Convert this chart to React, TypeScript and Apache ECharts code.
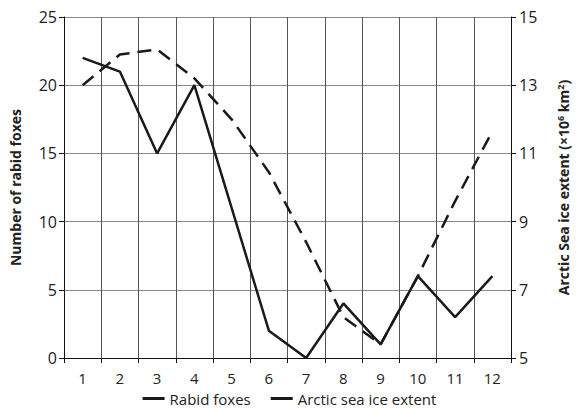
import React, { useEffect, useRef } from "react";
import * as echarts from "echarts";

const months = ["1", "2", "3", "4", "5", "6", "7", "8", "9", "10", "11", "12"];
const rabidFoxes = [22, 21, 15, 20, 11, 2, 0, 4, 1, 6, 3, 6];
const seaIce = [13.0, 13.9, 14.05, 13.2, 12.0, 10.45, 8.4, 6.2, 5.4, 7.4, 9.6, 11.65];
const leftTicks = { min: 0, max: 25, interval: 5 };
const rightTicks = { min: 5, max: 15, interval: 2 };

const FONT = "'Open Sans', 'Liberation Sans', sans-serif";

export default function App() {
  const ref = useRef<HTMLDivElement>(null);
  useEffect(() => {
    if (!ref.current) return;
    const chart = echarts.init(ref.current, undefined, { renderer: "svg" });
    const offset = rightTicks.min;
    chart.setOption({
      animation: false,
      textStyle: { fontFamily: FONT },
      grid: { left: 59, right: 52, top: 17, bottom: 53 },
      legend: {
        bottom: 0,
        left: "center",
        icon: "rect",
        itemWidth: 22,
        itemHeight: 3,
        itemGap: 20,
        textStyle: { fontFamily: FONT, fontSize: 15, color: "#222", lineHeight: 15 },
        data: ["Rabid foxes", "Arctic sea ice extent"],
      },
      xAxis: {
        type: "category",
        data: months,
        boundaryGap: true,
        axisLine: { lineStyle: { color: "#111", width: 1 } },
        axisTick: { show: true, length: 5, lineStyle: { color: "#111" } },
        axisLabel: { fontFamily: FONT, fontSize: 15, color: "#222", margin: 12, lineHeight: 15 },
        splitLine: { show: true, lineStyle: { color: "#555", width: 1 } },
      },
      yAxis: [
        {
          type: "value",
          min: leftTicks.min,
          max: leftTicks.max,
          interval: leftTicks.interval,
          position: "left",
          name: "Number of rabid foxes",
          nameLocation: "middle",
          nameGap: 42,
          nameTextStyle: { fontFamily: FONT, fontSize: 14, fontWeight: "bold", color: "#222" },
          axisLine: { show: true, lineStyle: { color: "#111", width: 1 } },
          axisTick: { show: true, length: 5, lineStyle: { color: "#111" } },
          axisLabel: { fontFamily: FONT, fontSize: 16, color: "#222", margin: 7 },
          splitLine: { show: true, lineStyle: { color: "#888", width: 1 } },
        },
        {
          type: "value",
          min: rightTicks.min - offset,
          max: rightTicks.max - offset,
          interval: rightTicks.interval,
          position: "right",
          name: "{t|Arctic Sea ice extent (×10}{s|6}{t| km}{s|2}{t|)}",
          nameLocation: "middle",
          nameGap: 45,
          nameRotate: 90,
          nameTextStyle: {
            fontFamily: FONT,
            fontWeight: "bold",
            color: "#222",
            rich: {
              t: { fontFamily: FONT, fontSize: 14, fontWeight: "bold", color: "#222" },
              s: { fontFamily: FONT, fontSize: 9, fontWeight: "bold", color: "#222", verticalAlign: "top", lineHeight: 14, padding: [0, 0, 6, 0] },
            },
          },
          axisLine: { show: true, lineStyle: { color: "#111", width: 1 } },
          axisTick: { show: true, length: 5, lineStyle: { color: "#111" } },
          axisLabel: {
            fontFamily: FONT,
            fontSize: 16,
            color: "#222",
            margin: 8,
            formatter: (v: number) => String(v + offset),
          },
          splitLine: { show: false },
        },
      ],
      series: [
        {
          name: "Rabid foxes",
          type: "line",
          yAxisIndex: 0,
          data: rabidFoxes,
          symbol: "none",
          lineStyle: { color: "#1a1a1a", width: 2.5 },
          itemStyle: { color: "#1a1a1a" },
        },
        {
          name: "Arctic sea ice extent",
          type: "line",
          yAxisIndex: 1,
          data: seaIce.map((v) => v - offset),
          symbol: "none",
          lineStyle: { color: "#1a1a1a", width: 2.5, type: [14, 8] },
          itemStyle: { color: "#1a1a1a" },
        },
      ],
    });
    return () => chart.dispose();
  }, []);
  return <div ref={ref} style={{ width: 579, height: 411, position: "absolute", left: 0, top: 0 }} />;
}
